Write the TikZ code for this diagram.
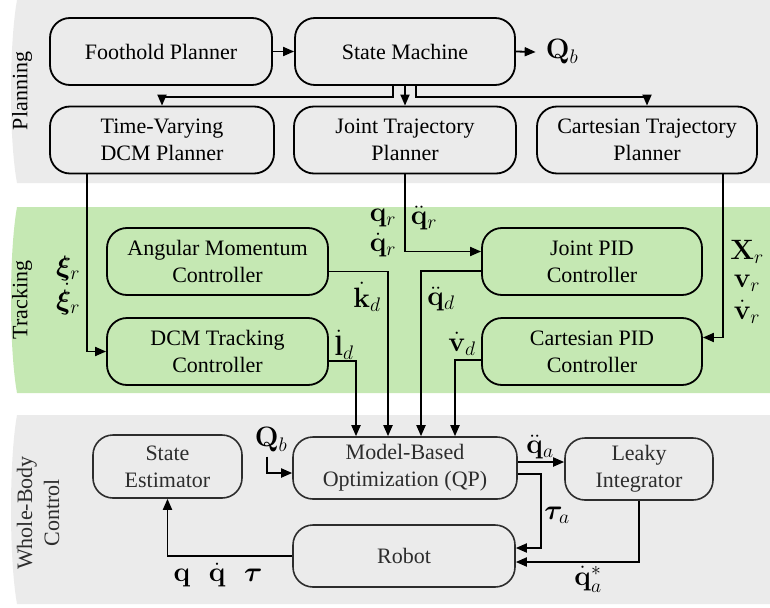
\RequirePackage{fix-cm}
\documentclass[tikz,border=0pt]{standalone}
\usepackage{amsmath,bm}
\usepackage[no-math]{fontspec}
\setmainfont{Liberation Serif}
\usetikzlibrary{arrows.meta,calc}
\definecolor{bandgray}{RGB}{235,235,235}
\definecolor{bandgreen}{RGB}{197,232,179}
\definecolor{softink}{RGB}{45,45,45}
\begin{document}
\begin{tikzpicture}[x=1pt,y=-1pt,
  font=\fontsize{22}{27}\selectfont,
  blk/.style={draw, line width=1.8pt, rounded corners=20pt, align=center, inner sep=0pt},
  wbc/.style={draw=softink, text=softink, line width=1.6pt},
  wide/.style={minimum width=222pt, minimum height=67pt},
  narrow/.style={minimum width=149pt, minimum height=63pt},
  link/.style={line width=1.8pt, -{Triangle[length=11pt,width=9pt]}},
  lbl/.style={inner sep=0pt, align=center},
  sig/.style={inner sep=0pt, font=\fontsize{28}{34}\selectfont}]
\useasboundingbox (0,0) rectangle (770,607);

% layer bands
\fill[bandgray] (770,0) -- (17,0) .. controls (9,45) and (9,140) .. (17,183) -- (770,183) -- cycle;
\fill[bandgreen] (770,207) -- (17,207) .. controls (9,252) and (9,348) .. (17,393) -- (770,393) -- cycle;
\fill[bandgray] (770,415) -- (17,415) .. controls (9,460) and (9,559) .. (17,604) -- (770,604) -- cycle;

\node[lbl, rotate=90] (lplan) at (22,91) {Planning};
\node[lbl, rotate=90] (ltrack) at (22,300) {Tracking};
\node[lbl, rotate=90, text=softink] (lwbc) at (38,513) {Whole-Body\\Control};

% planning
\node[blk, wide] (foot)  at (161,51.5) {Foothold Planner};
\node[blk, wide, minimum width=220pt] (sm) at (405,51.5) {State Machine};
\node[blk, wide, minimum width=224pt] (tvdcm) at (162,140) {Time-Varying\\DCM Planner};
\node[blk, wide] (jtp)   at (405,140) {Joint Trajectory\\Planner};
\node[blk, wide, minimum width=220pt] (ctp) at (647,140) {Cartesian Trajectory\\Planner};

% tracking
\node[blk, wide, minimum width=221pt] (amc)  at (217.5,261.5) {Angular Momentum\\Controller};
\node[blk, wide, minimum width=221pt] (dcmt) at (217.5,351.5) {DCM Tracking\\Controller};
\node[blk, wide, minimum width=220pt] (jpid) at (592,261.5) {Joint PID\\Controller};
\node[blk, wide, minimum width=220pt] (cpid) at (592,351.5) {Cartesian PID\\Controller};

% whole-body control
\node[blk, wbc, narrow] (se)    at (167.5,466.5) {State\\Estimator};
\node[blk, wbc, wide, minimum width=224pt, minimum height=62pt] (mbo) at (405,468) {Model-Based\\Optimization (QP)};
\node[blk, wbc, narrow, minimum width=148pt, minimum height=62pt] (leaky) at (639,469) {Leaky\\Integrator};
\node[blk, wbc, wide, minimum height=62pt] (robot) at (404,556) {Robot};

% signal labels
\node[sig] (qb1) at (562,52) {$\mathbf{Q}_b$};
\node[sig] (xi1) at (68,268) {$\boldsymbol{\xi}_r$};
\node[sig] (xi2) at (68,299) {$\dot{\boldsymbol{\xi}}_r$};
\node[sig] (qr1) at (383,218) {$\mathbf{q}_r$};
\node[sig] (qr2) at (383,245) {$\dot{\mathbf{q}}_r$};
\node[sig] (qddr) at (424,218) {$\ddot{\mathbf{q}}_r$};
\node[sig] (xr) at (747,252) {$\mathbf{X}_r$};
\node[sig] (vr) at (747,283) {$\mathbf{v}_r$};
\node[sig] (vdr) at (747,312) {$\dot{\mathbf{v}}_r$};
\node[sig] (kd) at (367,297) {$\dot{\mathbf{k}}_d$};
\node[sig] (ld) at (344,345) {$\dot{\mathbf{l}}_d$};
\node[sig] (qddd) at (441,299) {$\ddot{\mathbf{q}}_d$};
\node[sig] (vd) at (462,344) {$\dot{\mathbf{v}}_d$};
\node[sig] (qb2) at (271,440) {$\mathbf{Q}_b$};
\node[sig] (qdda) at (540,447) {$\ddot{\mathbf{q}}_a$};
\node[sig] (taua) at (557,515) {$\boldsymbol{\tau}_a$};
\node[sig] (qdstar) at (588,579) {$\dot{\mathbf{q}}_a^*$};
\node[sig] (state) at (218,575) {$\mathbf{q}\mkern12mu\dot{\mathbf{q}}\mkern12mu\boldsymbol{\tau}$};

% planning connectors
\draw[link] (foot.east) -- (sm.west);
\draw[link] (sm.east) -- ([xshift=-10pt]qb1.west);
\draw[link] ([xshift=-12pt]sm.south) -- ++(0,11) -| (tvdcm.north);
\draw[link] (sm.south) -- (jtp.north);
\draw[link] ([xshift=11pt]sm.south) -- ++(0,11) -| (ctp.north);

% planning to tracking
\draw[link] ([xshift=-75pt]tvdcm.south) |- (dcmt.west);
\draw[link] (jtp.south) |- ([yshift=10pt]jpid.west);
\draw[link] ([xshift=76pt]ctp.south) |- ([yshift=14pt]cpid.east);

% tracking to optimization
\draw[link] ([yshift=-10pt]amc.east) -| ([xshift=-17pt]mbo.north);
\draw[link] ([yshift=-9.5pt]dcmt.east) -| ([xshift=-49pt]mbo.north);
\draw[link] ([yshift=-9.5pt]jpid.west) -| ([xshift=16pt]mbo.north);
\draw[link] ([yshift=-8.5pt]cpid.west) -| ([xshift=50pt]mbo.north);

% whole-body control loop
\draw[link] ([xshift=-4pt,yshift=-4pt]qb2.south) |- ([yshift=-5pt]mbo.west);
\draw[link] ([yshift=6pt]mbo.east) -- ([yshift=6pt]mbo.east -| leaky.west);
\draw[link] ([yshift=-6pt]mbo.east) -- ++(23,0) |- ([yshift=8pt]robot.east);
\draw[link] (leaky.south) |- ([yshift=-6pt]robot.east);
\draw[link] (robot.west) -| (se.south);
\end{tikzpicture}
\end{document}
